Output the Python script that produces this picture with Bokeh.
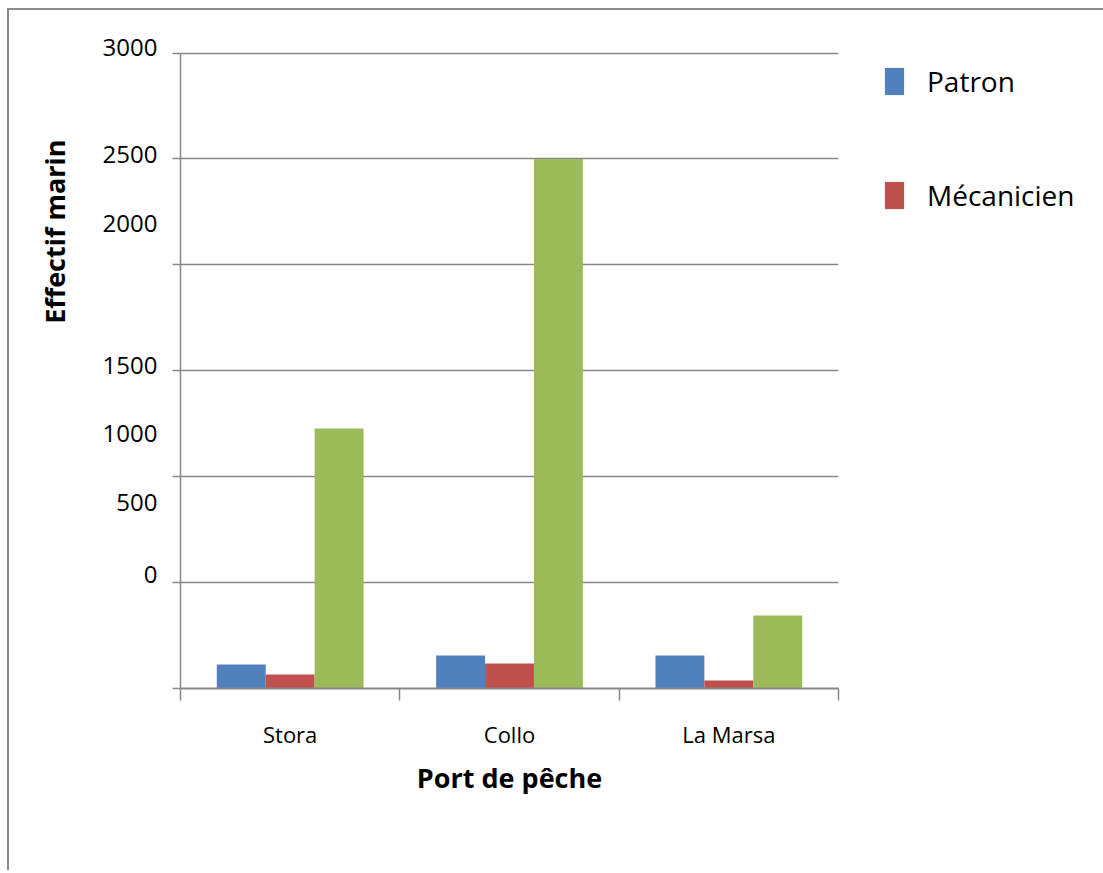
from bokeh.plotting import figure
from bokeh.models import (Range1d, LinearAxis, FixedTicker, Title,
                          Legend, LegendItem, ColumnDataSource)
from bokeh.transform import dodge
from bokeh.embed import file_html
from bokeh.resources import INLINE

# ---- data ----
ports = ["Stora", "Collo", "La Marsa"]
patron = [113, 156, 156]
mecanicien = [66, 118, 38]
marin = [1228, 2500, 345]

y_tick_labels = ["3000", "2500", "2000", "1500", "1000", "500", "0"]
y_tick_label_at = [3026, 2523, 2197, 1523, 1205, 876, 536]
grid_values = [0, 500, 1000, 1500, 2000, 2500, 3000]

FONT = "Open Sans"
GRAY = "#878787"
BLUE, RED, GREEN = "#4F81BD", "#C0504D", "#9BBB59"

centers = [i + 0.5 for i in range(len(ports))]
src = ColumnDataSource(dict(xc=centers, patron=patron, mecanicien=mecanicien, marin=marin))

p = figure(x_range=Range1d(0, len(ports)), y_range=Range1d(0, 3050),
           frame_width=658, frame_height=646,
           min_border_left=171, min_border_top=32, min_border_right=257, min_border_bottom=182,
           x_axis_location=None, y_axis_location=None,
           output_backend="svg", toolbar_location=None,
           styles={"border-left": "2px solid #8c8c8c", "border-top": "2px solid #8c8c8c",
                   "margin-left": "7px", "margin-top": "8px"})
p.outline_line_color = None
p.background_fill_color = "white"
p.border_fill_color = "white"

# bars
bw = 0.223
r1 = p.vbar(x=dodge("xc", -bw), top="patron", width=bw, source=src,
            fill_color=BLUE, line_color=None)
r2 = p.vbar(x=dodge("xc", 0), top="mecanicien", width=bw, source=src,
            fill_color=RED, line_color=None)
r3 = p.vbar(x=dodge("xc", bw), top="marin", width=bw, source=src,
            fill_color=GREEN, line_color=None)


def hide_labels(ax):
    ax.major_label_text_color = None
    ax.major_label_text_font_size = "1px"
    ax.major_label_standoff = 0


# y tick axis (marks only)
yt = LinearAxis(ticker=FixedTicker(ticks=grid_values, minor_ticks=[]), bounds=(0, 3000))
yt.axis_line_color = GRAY
yt.axis_line_width = 1.5
yt.major_tick_line_color = GRAY
yt.major_tick_line_width = 1.5
yt.major_tick_out = 8
yt.major_tick_in = 0
hide_labels(yt)
p.add_layout(yt, "left")

# y label axis
yl = LinearAxis(ticker=FixedTicker(ticks=y_tick_label_at, minor_ticks=[]),
                major_label_overrides={v: t for v, t in zip(y_tick_label_at, y_tick_labels)})
yl.axis_line_color = None
yl.major_tick_line_color = None
yl.major_tick_out = 0
yl.major_tick_in = 0
yl.major_label_standoff = 15
yl.major_label_text_font = FONT
yl.major_label_text_font_size = "24px"
yl.major_label_text_color = "black"
p.add_layout(yl, "left")

# y title (placed high, like the reference)
yttl = Title(text="Effectif marin", align="right", vertical_align="top", offset=97, standoff=50,
             text_font=FONT, text_font_style="bold", text_font_size="27px",
             text_color="black")
p.add_layout(yttl, "left")

# grid
p.ygrid.ticker = FixedTicker(ticks=grid_values)
p.ygrid.grid_line_color = GRAY
p.ygrid.grid_line_width = 1.5
p.xgrid.grid_line_color = None

# x tick axis (category boundaries)
xt = LinearAxis(ticker=FixedTicker(ticks=list(range(len(ports) + 1)), minor_ticks=[]))
xt.axis_line_color = GRAY
xt.axis_line_width = 2
xt.major_tick_line_color = GRAY
xt.major_tick_line_width = 1.5
xt.major_tick_out = 12
xt.major_tick_in = 0
hide_labels(xt)
p.add_layout(xt, "below")

# x category label axis
xl = LinearAxis(ticker=FixedTicker(ticks=centers, minor_ticks=[]),
                major_label_overrides={c: n for c, n in zip(centers, ports)})
xl.axis_line_color = None
xl.major_tick_line_color = None
xl.major_tick_out = 0
xl.major_tick_in = 0
xl.major_label_standoff = 18
xl.major_label_text_font = FONT
xl.major_label_text_font_size = "22px"
xl.major_label_text_color = "black"
xl.axis_label = "Port de pêche"
xl.axis_label_text_font = FONT
xl.axis_label_text_font_style = "bold"
xl.axis_label_text_font_size = "27px"
xl.axis_label_text_color = "black"
xl.axis_label_standoff = 7
p.add_layout(xl, "below")

legend = Legend(items=[LegendItem(label="Patron", renderers=[r1]),
                       LegendItem(label="Mécanicien", renderers=[r2])],
                location=(44, 474))
legend.border_line_color = None
legend.background_fill_alpha = 0
legend.padding = 0
legend.margin = 0
legend.glyph_width = 24
legend.glyph_height = 34
legend.spacing = 76
legend.label_standoff = 21
legend.label_text_font = FONT
legend.label_text_font_size = "28px"
legend.label_text_color = "black"
p.add_layout(legend, "right")

open("out.html", "w").write(file_html(p, INLINE))
